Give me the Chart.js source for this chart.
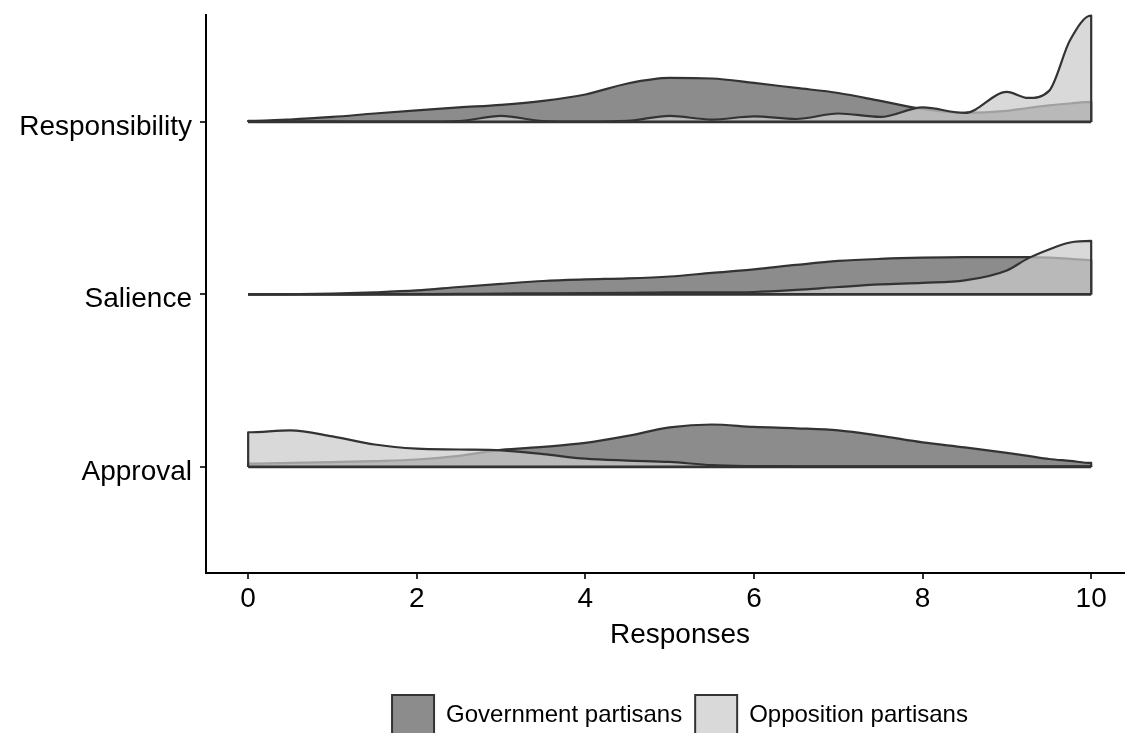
<!DOCTYPE html>
<html>
<head>
<meta charset="utf-8">
<script src="https://cdn.jsdelivr.net/npm/chart.js@4"></script>
<style>
  html, body { margin: 0; padding: 0; background: #fff; overflow: hidden; }
  #wrap { width: 1154px; height: 745px; }
</style>
</head>
<body>
<div id="wrap"><canvas id="chart" width="1154" height="745"></canvas></div>
<script>
// rows from bottom to top
const rowNames = ['Approval', 'Salience', 'Responsibility'];
const xTicks = [0, 2, 4, 6, 8, 10];
const seriesNames = ['Government partisans', 'Opposition partisans'];

// response grid the densities are read on
const grid = [0, 0.5, 1, 1.5, 2, 2.5, 3, 3.5, 4, 4.5, 5, 5.5, 6, 6.5, 7, 7.5, 8, 8.5, 9, 9.25, 9.5, 9.75, 10];

// ridge heights (in row units) for each row
const govApproval = [0.019, 0.023, 0.028, 0.034, 0.043, 0.064, 0.099, 0.116, 0.139, 0.180, 0.229, 0.246, 0.232, 0.224, 0.212, 0.180, 0.142, 0.113, 0.081, 0.064, 0.046, 0.035, 0.023];
const oppApproval = [0.201, 0.212, 0.177, 0.130, 0.106, 0.101, 0.096, 0.074, 0.048, 0.037, 0.029, 0.010, 0.005, 0.004, 0.003, 0.003, 0.003, 0.003, 0.003, 0.003, 0.003, 0.003, 0.003];

const govSalience = [0.000, 0.002, 0.005, 0.012, 0.023, 0.043, 0.061, 0.078, 0.087, 0.093, 0.104, 0.125, 0.145, 0.171, 0.194, 0.206, 0.213, 0.216, 0.216, 0.216, 0.213, 0.206, 0.199];
const oppSalience = [0.000, 0.000, 0.000, 0.001, 0.002, 0.003, 0.005, 0.006, 0.007, 0.009, 0.012, 0.012, 0.014, 0.026, 0.043, 0.058, 0.067, 0.081, 0.139, 0.209, 0.261, 0.301, 0.310];

const govResp = [0.006, 0.014, 0.029, 0.049, 0.067, 0.084, 0.099, 0.122, 0.159, 0.223, 0.255, 0.252, 0.226, 0.197, 0.168, 0.122, 0.075, 0.052, 0.064, 0.081, 0.096, 0.107, 0.116];
const oppResp = [0.000, 0.003, 0.003, 0.002, 0.002, 0.005, 0.035, 0.005, 0.002, 0.006, 0.035, 0.014, 0.032, 0.017, 0.049, 0.029, 0.084, 0.052, 0.174, 0.139, 0.180, 0.475, 0.617];

const govRows = [govApproval, govSalience, govResp];
const oppRows = [oppApproval, oppSalience, oppResp];

const govFill = '#8c8c8c';
const oppFill = 'rgba(202,202,202,0.72)';
const outline = '#333333';

// closed ridge: start and end on the baseline
function ridge(base, h) {
  let pts = [{x: grid[0], y: base}];
  grid.forEach((x, i) => pts.push({x: x, y: base + h[i]}));
  pts.push({x: grid[grid.length - 1], y: base});
  return pts;
}

let datasets = [];
rowNames.forEach((name, r) => {
  let base = r + 1;
  datasets.push({
    label: seriesNames[0] + ' ' + name,
    data: ridge(base, govRows[r]),
    backgroundColor: govFill,
    borderColor: outline,
    borderWidth: 2.2,
    fill: {value: base},
    order: 2
  });
  datasets.push({
    label: seriesNames[1] + ' ' + name,
    data: ridge(base, oppRows[r]),
    backgroundColor: oppFill,
    borderColor: outline,
    borderWidth: 2.2,
    fill: {value: base},
    order: 1
  });
  // baseline of the ridge
  datasets.push({
    label: 'base ' + name,
    data: [{x: grid[0], y: base}, {x: grid[grid.length - 1], y: base}],
    borderColor: outline,
    borderWidth: 2.8,
    fill: false,
    order: 0
  });
});

const font = 'Liberation Sans, Arial, sans-serif';

new Chart(document.getElementById('chart'), {
  type: 'line',
  data: {datasets: datasets},
  options: {
    responsive: false,
    animation: false,
    events: [],
    layout: {padding: {top: 15, left: 0, right: 0, bottom: 0}},
    elements: {
      point: {radius: 0},
      line: {cubicInterpolationMode: 'monotone', borderCapStyle: 'butt', borderJoinStyle: 'round'}
    },
    datasets: {line: {clip: false}},
    scales: {
      x: {
        type: 'linear',
        min: -0.5,
        max: 10.745,
        afterBuildTicks: s => { s.ticks = xTicks.map(v => ({value: v})); },
        afterFit: s => { s.height = 109; s.paddingLeft = 0; s.paddingRight = 0; },
        grid: {display: true, drawOnChartArea: false, drawTicks: true, tickLength: 6, color: '#333', lineWidth: 2},
        border: {display: true, color: '#000', width: 2},
        ticks: {color: '#000', font: {family: font, size: 28}, padding: 3, maxRotation: 0},
        title: {display: true, text: 'Responses', color: '#000', font: {family: font, size: 28}, padding: {top: 0, bottom: 30}}
      },
      y: {
        type: 'linear',
        min: 0.385,
        max: 3.62,
        afterBuildTicks: s => { s.ticks = rowNames.map((n, i) => ({value: i + 1})); },
        afterFit: s => { s.width = 206; s.paddingTop = 0; s.paddingBottom = 0; },
        grid: {display: true, drawOnChartArea: false, drawTicks: true, tickLength: 6, color: '#333', lineWidth: 2},
        border: {display: true, color: '#000', width: 2},
        ticks: {
          color: '#000',
          font: {family: font, size: 28},
          padding: 8,
          labelOffset: 5,
          callback: v => rowNames[v - 1]
        }
      }
    },
    plugins: {
      tooltip: {enabled: false},
      legend: {
        display: true,
        position: 'bottom',
        fullSize: false,
        labels: {
          boxWidth: 42,
          boxHeight: 40,
          padding: 13,
          color: '#000',
          font: {family: font, size: 24},
          generateLabels: () => [
            {text: seriesNames[0], fillStyle: govFill, strokeStyle: outline, lineWidth: 2, hidden: false, datasetIndex: 0},
            {text: seriesNames[1], fillStyle: '#d9d9d9', strokeStyle: outline, lineWidth: 2, hidden: false, datasetIndex: 1}
          ]
        }
      }
    }
  }
});
</script>
</body>
</html>
